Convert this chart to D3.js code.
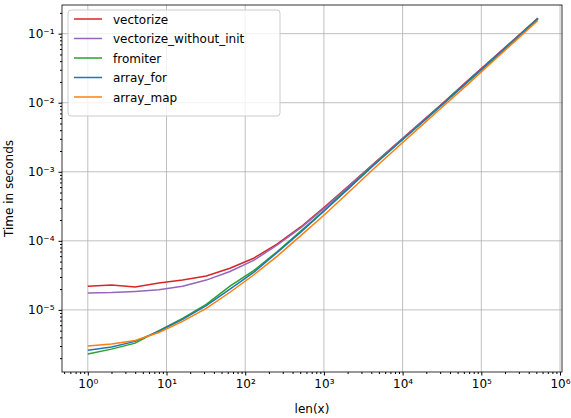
<!DOCTYPE html>
<html><head><meta charset="utf-8">
<script src="https://cdn.jsdelivr.net/npm/d3@7"></script>
<style>body{margin:0;background:#fff}text{font-family:"DejaVu Sans",sans-serif}</style>
</head><body><svg id="chart" width="571" height="418"></svg>
<script>
const sizes = d3.range(20).map(i => Math.pow(2, i));
const vectorize = [2.2e-5,2.3e-5,2.15e-5,2.45e-5,2.7e-5,3.1e-5,4e-5,5.6e-5,9e-5,1.6e-4,3.1e-4,6.2e-4,1.25e-3,2.5e-3,5e-3,1e-2,2.05e-2,4.1e-2,8.3e-2,0.168];
const vectorizeNoInit = [1.75e-5,1.78e-5,1.85e-5,1.95e-5,2.2e-5,2.7e-5,3.6e-5,5.2e-5,8.7e-5,1.55e-4,3e-4,6.1e-4,1.23e-3,2.45e-3,4.9e-3,9.8e-3,2e-2,4e-2,8.2e-2,0.166];
const fromiter = [2.3e-6,2.7e-6,3.3e-6,5e-6,7.5e-6,1.2e-5,2.2e-5,3.7e-5,7e-5,1.4e-4,2.8e-4,5.8e-4,1.2e-3,2.4e-3,4.8e-3,9.6e-3,1.95e-2,3.9e-2,8e-2,0.165];
const arrayFor = [2.6e-6,2.9e-6,3.5e-6,4.9e-6,7.3e-6,1.15e-5,2e-5,3.5e-5,6.8e-5,1.35e-4,2.75e-4,5.7e-4,1.18e-3,2.4e-3,4.8e-3,9.7e-3,1.97e-2,4e-2,8.1e-2,0.166];
const arrayMap = [3e-6,3.2e-6,3.6e-6,4.7e-6,6.8e-6,1.05e-5,1.8e-5,3.2e-5,6e-5,1.2e-4,2.4e-4,5e-4,1.05e-3,2.15e-3,4.4e-3,8.9e-3,1.8e-2,3.7e-2,7.6e-2,0.155];
const series = [
  {name:"vectorize", values:vectorize, color:"#d62728"},
  {name:"vectorize_without_init", values:vectorizeNoInit, color:"#9467bd"},
  {name:"fromiter", values:fromiter, color:"#2ca02c"},
  {name:"array_for", values:arrayFor, color:"#1f77b4"},
  {name:"array_map", values:arrayMap, color:"#ff7f0e"}
];
const xTicks = [1,10,100,1e3,1e4,1e5,1e6];
const yTicks = [1e-5,1e-4,1e-3,1e-2,1e-1];
const sup = {"-":"⁻","0":"⁰","1":"¹","2":"²","3":"³","4":"⁴","5":"⁵","6":"⁶"};

const svg = d3.select("#chart");
const L = 62, R = 562, T = 5, B = 372;
const x = d3.scaleLog().domain([0.47, 1.06e6]).range([L, R]);
const y = d3.scaleLog().domain([1.26e-6, 0.26]).range([B, T]);
const fmt = v => "10" + String(Math.round(Math.log10(v))).split("").map(c => sup[c]).join("");

const minor = (dom) => {
  const out = [];
  for (let e = -7; e <= 7; e++) for (let m = 2; m < 10; m++) {
    const v = m * Math.pow(10, e);
    if (v >= dom[0] && v <= dom[1]) out.push(v);
  }
  return out;
};

// grid
svg.append("g").selectAll("line").data(xTicks).join("line")
  .attr("x1", d => x(d)).attr("x2", d => x(d)).attr("y1", T).attr("y2", B)
  .attr("stroke", "#b0b0b0").attr("stroke-width", 0.8);
svg.append("g").selectAll("line").data(yTicks).join("line")
  .attr("y1", d => y(d)).attr("y2", d => y(d)).attr("x1", L).attr("x2", R)
  .attr("stroke", "#b0b0b0").attr("stroke-width", 0.8);

const line = d3.line().x((d, i) => x(sizes[i])).y(d => y(d));
svg.append("g").selectAll("path").data(series).join("path")
  .attr("d", d => line(d.values)).attr("fill", "none")
  .attr("stroke", d => d.color).attr("stroke-width", 1.5);

svg.append("rect").attr("x", L).attr("y", T).attr("width", R - L).attr("height", B - T)
  .attr("fill", "none").attr("stroke", "#000").attr("stroke-width", 0.8);

const xa = svg.append("g").attr("transform", `translate(0,${B})`)
  .call(d3.axisBottom(x).tickValues(xTicks).tickFormat(fmt).tickSize(3.5).tickPadding(4));
const xm = svg.append("g").attr("transform", `translate(0,${B})`)
  .call(d3.axisBottom(x).tickValues(minor(x.domain())).tickFormat("").tickSize(2));
const ya = svg.append("g").attr("transform", `translate(${L},0)`)
  .call(d3.axisLeft(y).tickValues(yTicks).tickFormat(fmt).tickSize(3.5).tickPadding(4));
const ym = svg.append("g").attr("transform", `translate(${L},0)`)
  .call(d3.axisLeft(y).tickValues(minor(y.domain())).tickFormat("").tickSize(2));
[xa, xm, ya, ym].forEach(g => { g.select(".domain").remove(); g.selectAll("text").attr("font-size", 12).attr("fill", "#000"); });

svg.append("text").attr("x", (L + R) / 2).attr("y", 413).attr("text-anchor", "middle").attr("font-size", 12).text("len(x)");
svg.append("text").attr("transform", `translate(13,${(T + B) / 2}) rotate(-90)`).attr("text-anchor", "middle").attr("font-size", 12).text("Time in seconds");

const lg = svg.append("g").attr("transform", "translate(68,10)");
lg.append("rect").attr("width", 212).attr("height", 106).attr("rx", 3)
  .attr("fill", "#fff").attr("fill-opacity", 0.8).attr("stroke", "#ccc");
series.forEach((s, i) => {
  const yy = 9 + i * 19.5;
  lg.append("line").attr("x1", 6).attr("x2", 34).attr("y1", yy).attr("y2", yy).attr("stroke", s.color).attr("stroke-width", 1.5);
  lg.append("text").attr("x", 45).attr("y", yy + 4.5).attr("font-size", 12).text(s.name);
});
</script></body></html>
